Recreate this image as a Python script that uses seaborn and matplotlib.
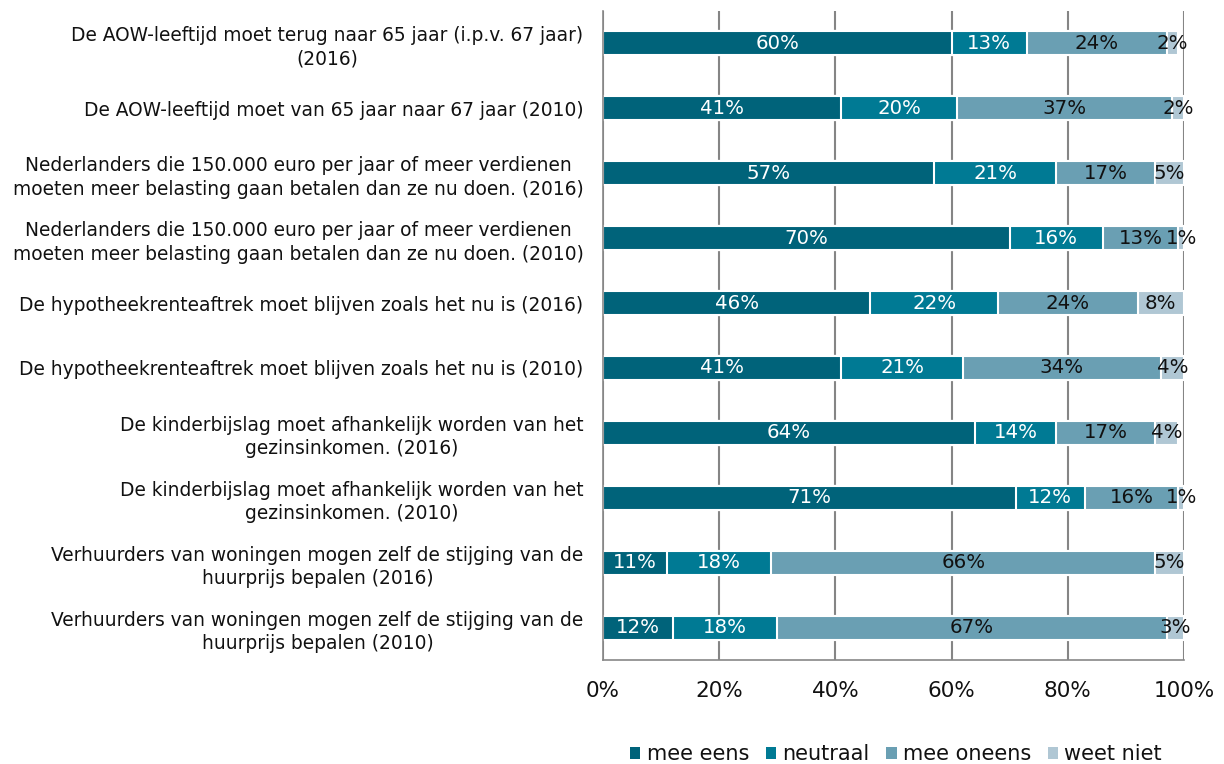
import numpy as np
import pandas as pd
import matplotlib
matplotlib.use("Agg")
import matplotlib.pyplot as plt
import seaborn as sns
from matplotlib.patches import Patch

# stellingen, van boven naar beneden
labels = [
    "De AOW-leeftijd moet terug naar 65 jaar (i.p.v. 67 jaar)\n(2016)",
    "De AOW-leeftijd moet van 65 jaar naar 67 jaar (2010)",
    "Nederlanders die 150.000 euro per jaar of meer verdienen\nmoeten meer belasting gaan betalen dan ze nu doen. (2016)",
    "Nederlanders die 150.000 euro per jaar of meer verdienen\nmoeten meer belasting gaan betalen dan ze nu doen. (2010)",
    "De hypotheekrenteaftrek moet blijven zoals het nu is (2016)",
    "De hypotheekrenteaftrek moet blijven zoals het nu is (2010)",
    "De kinderbijslag moet afhankelijk worden van het\ngezinsinkomen. (2016)",
    "De kinderbijslag moet afhankelijk worden van het\ngezinsinkomen. (2010)",
    "Verhuurders van woningen mogen zelf de stijging van de\nhuurprijs bepalen (2016)",
    "Verhuurders van woningen mogen zelf de stijging van de\nhuurprijs bepalen (2010)",
]

mee_eens    = [60, 41, 57, 70, 46, 41, 64, 71, 11, 12]
neutraal    = [13, 20, 21, 16, 22, 21, 14, 12, 18, 18]
mee_oneens  = [24, 37, 17, 13, 24, 34, 17, 16, 66, 67]
weet_niet   = [2, 2, 5, 1, 8, 4, 4, 1, 5, 3]

series_names = ["mee eens", "neutraal", "mee oneens", "weet niet"]
colors = ["#00637a", "#007a94", "#6a9fb3", "#b0c7d4"]
text_colors = ["white", "white", "#111111", "#111111"]

df = pd.DataFrame({
    "stelling": labels,
    "mee eens": mee_eens,
    "neutraal": neutraal,
    "mee oneens": mee_oneens,
    "weet niet": weet_niet,
})

sns.set_style("white")
plt.rcParams["font.family"] = ["DejaVu Sans"]
plt.rcParams["text.color"] = "#111111"

fig = plt.figure(figsize=(12.24, 7.64), dpi=100)
ax = fig.add_axes([603 / 1224, 1 - 660 / 764, (1184 - 603) / 1224, (660 - 11) / 764])

# gestapeld: cumulatieve balken, van de langste naar de kortste tekenen
cum = df[series_names].cumsum(axis=1)
for i in reversed(range(len(series_names))):
    sns.barplot(x=cum[series_names[i]], y=df["stelling"], order=labels, orient="h",
                color=colors[i], width=0.37, edgecolor="white", linewidth=1.5,
                saturation=1, ax=ax, zorder=2)

# percentages in de segmenten
for r in range(len(labels)):
    left = 0
    for i, name in enumerate(series_names):
        v = df[name].iloc[r]
        ax.text(left + v / 2, r, f"{v}%", ha="center", va="center",
                color=text_colors[i], fontsize=14.2, zorder=5)
        left += v

ax.set_xlim(0, 100)
ax.set_ylim(len(labels) - 0.5, -0.5)
ax.set_xticks(np.arange(0, 101, 20))
ax.set_xticklabels([f"{t}%" for t in range(0, 101, 20)], fontsize=15.5, color="#111111")
ax.set_yticks(np.arange(len(labels)))
ax.set_yticklabels(labels, fontsize=13.4, multialignment="center", color="#111111",
                   linespacing=1.3)
ax.set_yticks(np.arange(-0.5, len(labels)), minor=True)
ax.tick_params(axis="y", which="major", length=0, pad=14)
ax.tick_params(axis="y", which="minor", length=6, color="#888888", width=1.2)
ax.tick_params(axis="x", length=6, color="#888888", width=1.2, pad=9)
ax.set_xlabel("")
ax.set_ylabel("")

ax.set_axisbelow(True)
ax.xaxis.grid(True, color="#858585", linewidth=1.5)
ax.yaxis.grid(False)
for s in ["top", "right"]:
    ax.spines[s].set_visible(False)
ax.spines["left"].set_color("#888888")
ax.spines["bottom"].set_color("#888888")
ax.spines["left"].set_linewidth(1.2)
ax.spines["bottom"].set_linewidth(1.2)

handles = [Patch(facecolor=c, edgecolor="none") for c in colors]
fig.legend(handles, series_names, loc="center", bbox_to_anchor=(896 / 1224, 1 - 754 / 764),
           ncol=4, frameon=False, fontsize=15, handlelength=0.5, handleheight=0.5,
           handletextpad=0.3, columnspacing=0.8)

fig.savefig("out.png", dpi=100)
